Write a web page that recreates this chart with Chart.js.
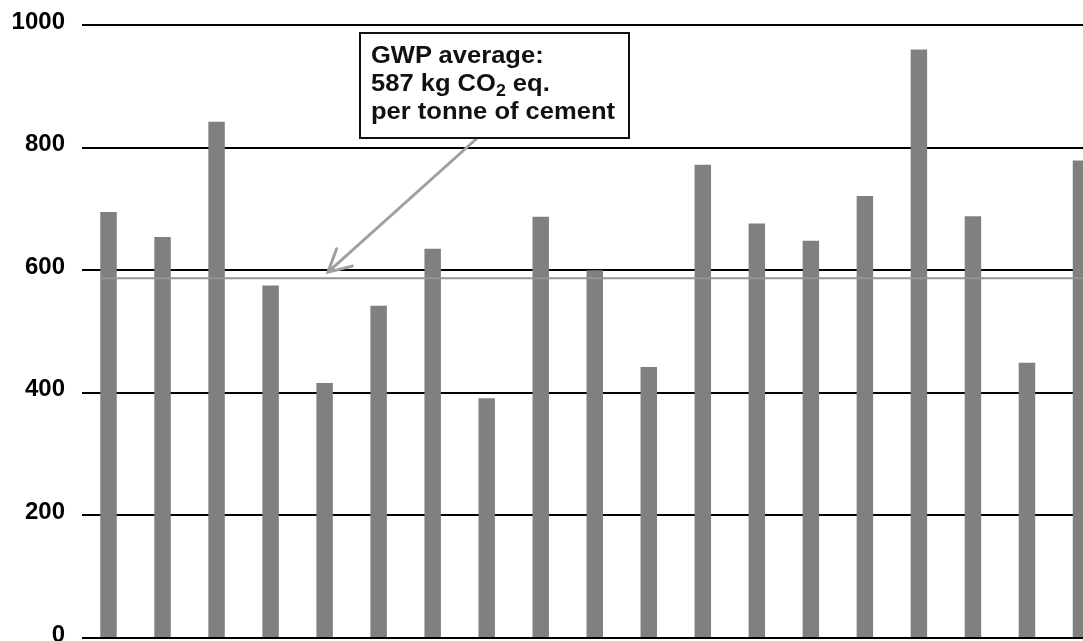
<!DOCTYPE html>
<html>
<head>
<meta charset="utf-8">
<script src="https://cdn.jsdelivr.net/npm/chart.js@4.4.1/dist/chart.umd.min.js"></script>
<style>
  html, body { margin: 0; padding: 0; background: #fff; overflow: hidden; width: 1083px; height: 641px; }
  #wrap { position: relative; width: 1083px; height: 641px; overflow: hidden; }
  #chart { position: absolute; left: 0; top: -6px; }
  #note {
    position: absolute; left: 359px; top: 32px; width: 271px; height: 107px;
    box-sizing: border-box; border: 2.5px solid #111; background: #fff;
    padding: 6.5px 0 0 10.2px;
  }
  #note .txt {
    display: block; white-space: nowrap; transform: scaleX(1.11); transform-origin: left top;
    font: bold 23px/28.3px "Liberation Sans", Arial, sans-serif; color: #111;
  }
  #note .sub { font-size: 16px; position: relative; top: 5px; line-height: 0; }
</style>
</head>
<body>
<div id="wrap">
  <canvas id="chart" width="1108" height="675"></canvas>
  <div id="note"><span class="txt">GWP average:<br>587 kg CO<span class="sub">2</span> eq.<br>per tonne of cement</span></div>
</div>
<script>
// ---- data ----
const categories = ['1','2','3','4','5','6','7','8','9','10','11','12','13','14','15','16','17','18','19'];
const gwpValues = [695, 654, 842, 575, 416, 542, 635, 391, 687, 600, 442, 772, 676, 648, 721, 960, 688, 449, 779];
const averageGWP = 587;
const yTickValues = [0, 200, 400, 600, 800, 1000];

// ---- plugin: average line + arrow ----
const averagePlugin = {
  id: 'averagePlugin',
  afterDraw(chart) {
    const ctx = chart.ctx;
    const y = chart.scales.y.getPixelForValue(averageGWP);
    const bar0 = chart.getDatasetMeta(0).data[0];
    const startX = bar0.x - bar0.width / 2;
    ctx.save();
    ctx.strokeStyle = '#959595';
    ctx.lineWidth = 2;
    ctx.beginPath();
    ctx.moveTo(startX, y);
    ctx.lineTo(chart.chartArea.right, y);
    ctx.stroke();

    // arrow from annotation box down to the average line
    const tail = { x: 484, y: 138 };
    const tip = { x: 328, y: y - 6 };
    ctx.strokeStyle = '#a0a0a0';
    ctx.lineWidth = 3;
    ctx.lineCap = 'round';
    ctx.beginPath();
    ctx.moveTo(tail.x, tail.y);
    ctx.lineTo(tip.x, tip.y);
    const ang = Math.atan2(tail.y - tip.y, tail.x - tip.x);
    const wing = 25, spread = 28 * Math.PI / 180;
    ctx.moveTo(tip.x + wing * Math.cos(ang - spread), tip.y + wing * Math.sin(ang - spread));
    ctx.lineTo(tip.x, tip.y);
    ctx.lineTo(tip.x + wing * Math.cos(ang + spread), tip.y + wing * Math.sin(ang + spread));
    ctx.stroke();
    ctx.restore();
  }
};

new Chart(document.getElementById('chart'), {
  type: 'bar',
  data: {
    labels: categories,
    datasets: [{
      data: gwpValues,
      backgroundColor: '#808080',
      borderWidth: 0,
      barPercentage: 0.305,
      categoryPercentage: 1.0
    }]
  },
  options: {
    responsive: false,
    animation: false,
    events: [],
    layout: { padding: { top: 31, bottom: 31, left: 0, right: 0 } },
    plugins: { legend: { display: false }, tooltip: { enabled: false } },
    scales: {
      x: { display: false },
      y: {
        min: 0, max: 1000, z: 1,
        afterBuildTicks(scale) { scale.ticks = yTickValues.map(v => ({ value: v })); },
        afterFit(scale) { scale.width = 81.5; },
        ticks: {
          color: '#000',
          padding: 16.5,
          labelOffset: -3,
          callback: (v) => String(v),
          font: { family: '"Liberation Sans", Arial, sans-serif', size: 24, weight: 'bold' }
        },
        grid: { color: '#000', lineWidth: 2, drawTicks: false },
        border: { display: false }
      }
    }
  },
  plugins: [averagePlugin]
});
</script>
</body>
</html>
